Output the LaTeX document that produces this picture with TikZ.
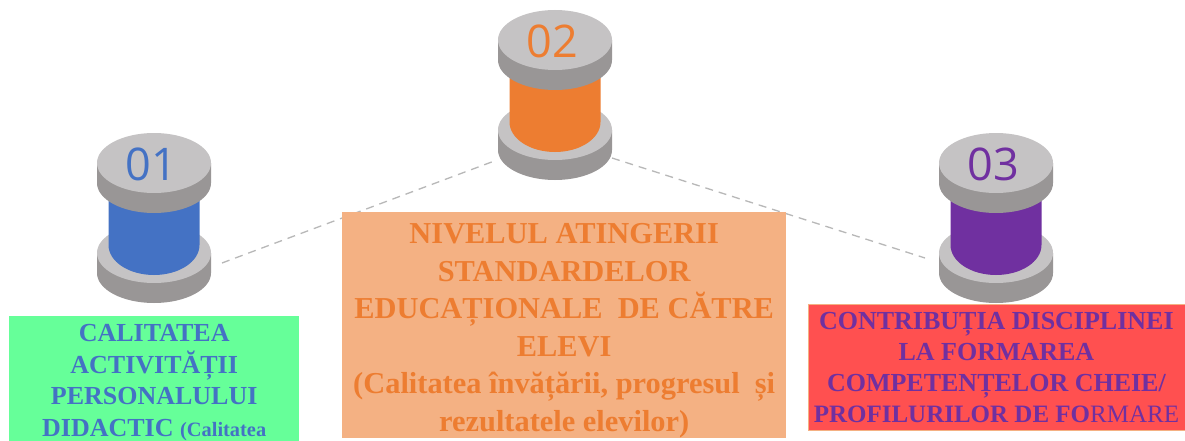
\documentclass[tikz,border=0pt]{standalone}
\usepackage{fontspec}
\setmainfont{Liberation Serif}
\newfontfamily\numfont{Open Sans}
\definecolor{discTop}{HTML}{C5C3C4}
\definecolor{discRim}{HTML}{999696}
\definecolor{cBlue}{HTML}{4472C4}
\definecolor{cOrange}{HTML}{ED7D31}
\definecolor{cPurple}{HTML}{7030A0}
\definecolor{bGreen}{HTML}{66FF99}
\definecolor{bOrange}{HTML}{F4B183}
\definecolor{bRed}{HTML}{FF5050}
\tikzset{
  x=1pt,y=-1pt,
  dashline/.style={draw=black!28,line width=1.3pt,dash pattern=on 8pt off 6pt},
  textbox/.style={anchor=north west,inner sep=0pt,align=center,font=\bfseries},
  numlabel/.style={inner sep=0pt,font={\numfont\fontsize{45}{45}\selectfont}},
  pics/spool/.style args={#1/#2}{code={
    % lower disc
    \fill[discRim] (-57,135) -- (-57,115) -- (57,115) -- (57,135) arc[start angle=0,end angle=180,x radius=57,y radius=30] -- cycle;
    \fill[discTop] (0,115) ellipse[x radius=57,y radius=30];
    % body
    \fill[#1] (-45.5,25) -- (45.5,25) -- (45.5,107) arc[start angle=0,end angle=180,x radius=45.5,y radius=30] -- cycle;
    % upper disc
    \fill[discRim] (-57,45) -- (-57,25) -- (57,25) -- (57,45) arc[start angle=0,end angle=180,x radius=57,y radius=30] -- cycle;
    \fill[discTop] (0,25) ellipse[x radius=57,y radius=30];
    \node[numlabel,text=#1] (-label) at (-3,26) {#2};
  }}
}
\begin{document}
\begin{tikzpicture}
\useasboundingbox (0,0) rectangle (1185,441);
\fill[white] (0,0) rectangle (1185,441);
\coordinate (endA) at (222,263);
\coordinate (midL) at (497,160);
\coordinate (midR) at (612,158);
\coordinate (endC) at (925,258);
\draw[dashline] (endA) -- (midL);
\draw[dashline] (midR) -- (endC);
\pic (spoolA) at (154,138) {spool={cBlue/01}};
\pic (spoolB) at (555,15) {spool={cOrange/02}};
\pic (spoolC) at (996,138) {spool={cPurple/03}};
\node[textbox,fill=bGreen,text=cBlue,minimum width=290pt,minimum height=125pt,
  font=\bfseries\fontsize{26}{31.5}\selectfont] (boxA) at (9,316)
  {\rule{0pt}{25pt}CALITATEA\\ACTIVITĂȚII\\PERSONALULUI\\DIDACTIC {\fontsize{20.4}{31.5}\selectfont(Calitatea}};
\node[textbox,fill=bOrange,text=cOrange,minimum width=444pt,minimum height=226pt,
  font=\bfseries\fontsize{30.4}{37.6}\selectfont] (boxB) at (342,212)
  {\rule{0pt}{31pt}NIVELUL ATINGERII\\STANDARDELOR\\EDUCAȚIONALE\ \ DE CĂTRE\\ELEVI\\(Calitatea învățării, progresul\ \ și\\rezultatele elevilor)};
\node[textbox,fill=bRed,text=cPurple,draw=bOrange,line width=0.8pt,minimum width=377pt,minimum height=126pt,
  font=\bfseries\fontsize{26}{31}\selectfont] (boxC) at (807.5,304)
  {CONTRIBUȚIA DISCIPLINEI\\LA FORMAREA\\COMPETENȚELOR CHEIE/\\{\fontsize{25}{31}\selectfont PROFILURILOR DE FO{\mdseries RMARE}}};
\end{tikzpicture}
\end{document}
